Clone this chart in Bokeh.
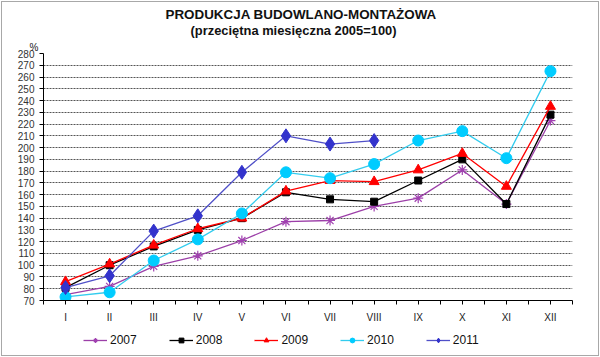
from bokeh.plotting import figure
from bokeh.layouts import column
from bokeh.models import FixedTicker, Legend, LegendItem, Title
from bokeh.embed import file_html
from bokeh.resources import INLINE

months = ["I", "II", "III", "IV", "V", "VI", "VII", "VIII", "IX", "X", "XI", "XII"]
y2007 = [75, 82, 99, 108, 121, 137, 138, 150, 157, 181, 152, 223]
y2008 = [81, 100, 116, 130, 140, 162, 156, 154, 172, 190, 152, 228]
y2009 = [86, 101, 117, 131, 140, 163, 172, 171, 181, 195, 167, 235]
y2010 = [73, 77, 104, 122, 144, 179, 174, 186, 206, 214, 191, 265]
y2011 = [81, 91, 129, 142, 179, 210, 203, 206]
years = ["2007", "2008", "2009", "2010", "2011"]

x = [i + 0.5 for i in range(len(months))]

FONT = "Liberation Sans"

p = figure(width=596, height=331, output_backend="svg", toolbar_location=None,
           x_range=(0, 12), y_range=(70, 280),
           min_border_left=41, min_border_right=26, min_border_top=51, min_border_bottom=33)
p.outline_line_color = None
p.background_fill_color = "white"
p.border_fill_color = "white"

# axes
p.xaxis.ticker = FixedTicker(ticks=x, minor_ticks=[float(i) for i in range(13)])
p.xaxis.major_label_overrides = {xx: m for xx, m in zip(x, months)}
p.xaxis.major_tick_out = 4
p.xaxis.major_tick_in = 0
p.xaxis.minor_tick_out = 4
p.xaxis.minor_tick_in = 0
p.xaxis.major_label_standoff = 7
p.xaxis.major_label_text_font = FONT
p.xaxis.major_label_text_font_size = "10px"
p.xaxis.major_label_text_color = "#222222"
p.xaxis.axis_line_color = "black"

p.yaxis.ticker = FixedTicker(ticks=list(range(70, 290, 10)))
p.yaxis.major_tick_out = 4
p.yaxis.major_tick_in = 0
p.yaxis.minor_tick_line_color = None
p.yaxis.major_label_standoff = 5
p.yaxis.major_label_text_font = FONT
p.yaxis.major_label_text_font_size = "10px"
p.yaxis.major_label_text_color = "#333333"
p.yaxis.axis_line_color = "black"

p.xgrid.grid_line_color = None
p.ygrid.ticker = FixedTicker(ticks=list(range(80, 280, 10)))
p.ygrid.grid_line_color = "#555555"
p.ygrid.grid_line_dash = "2 1"
p.ygrid.grid_line_width = 1

# legend strip below the chart: same series drawn again, outside its visible range
leg = figure(width=596, height=22, output_backend="svg", toolbar_location=None,
             x_range=(0, 12), y_range=(0, 1), x_axis_location=None, y_axis_location=None,
             min_border_left=0, min_border_right=0, min_border_top=0, min_border_bottom=0)
leg.grid.visible = False
leg.outline_line_color = None

styles = {
    # line colour, marker colour, marker, size in chart, size in legend
    "2007": ("#9C3FA8", "#A040B0", "asterisk", 10, 8),
    "2008": ("#000000", "#000000", "square", 7, 5),
    "2009": ("#FF0000", "#FF0000", "triangle", 10, 8),
    "2010": ("#33CCEE", "#00CCFF", "circle", 11, 8),
    "2011": ("#5050C8", "#3333CC", "diamond", 14, 10),
}
data = {"2007": y2007, "2008": y2008, "2009": y2009, "2010": y2010, "2011": y2011}

items = []
for year in years:
    lcolor, mcolor, marker, size, lsize = styles[year]
    ys = data[year]
    xs = x[:len(ys)]
    lw_m = 1.2 if marker == "asterisk" else 1
    p.line(xs, ys, line_color=lcolor, line_width=1.3)
    p.scatter(xs, ys, marker=marker, size=size, fill_color=mcolor, line_color=mcolor,
              line_width=lw_m)
    l1 = leg.line(xs, ys, line_color=lcolor, line_width=1.3)
    l2 = leg.scatter(xs, ys, marker=marker, size=lsize, fill_color=mcolor,
                     line_color=mcolor, line_width=lw_m)
    items.append(LegendItem(label=year, renderers=[l1, l2]))

legend = Legend(items=items, orientation="horizontal", location=(40, 8),
                glyph_width=24, glyph_height=12, label_standoff=3, spacing=32,
                padding=0, margin=0, border_line_color=None, background_fill_alpha=0,
                label_text_font=FONT, label_text_font_size="12px", label_text_color="#111111")
leg.add_layout(legend, "center")

# titles (added nearest-to-frame first)
p.add_layout(Title(text="%", align="left", offset=-14, standoff=2,
                   text_font=FONT, text_font_size="10px", text_font_style="normal",
                   text_color="#222222"), "above")
p.add_layout(Title(text="(przeciętna miesięczna 2005=100)", align="left", offset=147, standoff=1,
                   text_font=FONT, text_font_size="12.9px", text_font_style="bold",
                   text_color="#111111"), "above")
p.add_layout(Title(text="PRODUKCJA BUDOWLANO-MONTAŻOWA", align="left", offset=122, standoff=-3,
                   text_font=FONT, text_font_size="13.4px", text_font_style="bold",
                   text_color="#111111"), "above")

lay = column(p, leg, spacing=0, styles={"border": "1px solid #a8a8a8", "margin": "1px"})
open("out.html", "w").write(file_html(lay, INLINE))
